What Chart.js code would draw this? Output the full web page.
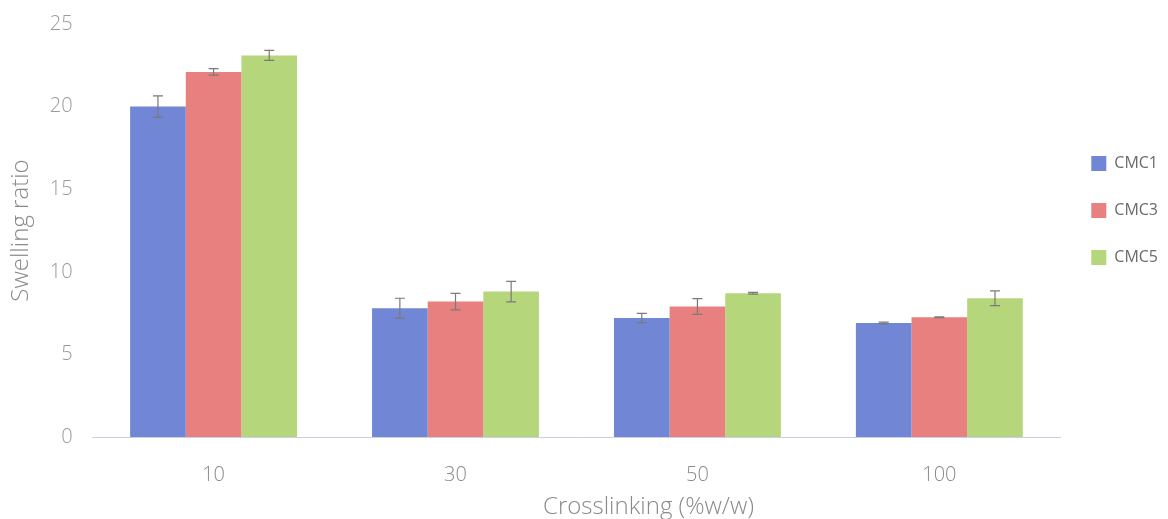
<!DOCTYPE html>
<html>
<head>
<meta charset="utf-8">
<title>Swelling ratio</title>
<script src="https://cdn.jsdelivr.net/npm/chart.js@4.4.0/dist/chart.umd.min.js"></script>
<style>
    html, body { margin: 0; padding: 0; background: #fff; }
    #wrap { width: 1168px; height: 519px; position: relative; }
</style>
</head>
<body>
<div id="wrap"><canvas id="swellChart"></canvas></div>
<script>
const categories = ['10', '30', '50', '100'];
const seriesNames = ['CMC1', 'CMC3', 'CMC5'];
const cmc1 = [20.0, 7.8, 7.2, 6.9];
const cmc3 = [22.1, 8.2, 7.9, 7.25];
const cmc5 = [23.1, 8.8, 8.7, 8.4];
const cmc1Err = [0.65, 0.6, 0.28, 0.05];
const cmc3Err = [0.2, 0.5, 0.48, 0.03];
const cmc5Err = [0.3, 0.62, 0.05, 0.45];
const yTicks = [0, 5, 10, 15, 20, 25];

const colors = ['#7186d4', '#e88080', '#b6d67c'];
const labelFont = { family: 'Open Sans', size: 20, weight: '300' };

// error bars drawn on top of each bar using the y scale
const errorBars = {
    id: 'errorBars',
    afterDatasetsDraw(chart) {
        const ctx = chart.ctx;
        const y = chart.scales.y;
        ctx.save();
        ctx.strokeStyle = '#7a7a7a';
        ctx.lineWidth = 1.2;
        chart.data.datasets.forEach((ds, i) => {
            chart.getDatasetMeta(i).data.forEach((bar, j) => {
                const v = ds.data[j], e = ds.errors[j];
                const top = y.getPixelForValue(v + e);
                const bot = y.getPixelForValue(v - e);
                const x = bar.x;
                ctx.beginPath();
                ctx.moveTo(x, top); ctx.lineTo(x, bot);
                ctx.moveTo(x - 5, top); ctx.lineTo(x + 5, top);
                ctx.moveTo(x - 5, bot); ctx.lineTo(x + 5, bot);
                ctx.stroke();
            });
        });
        ctx.restore();
    }
};

// x axis title sits a little right of the plot centre
const xTitle = {
    id: 'xTitle',
    afterDraw(chart) {
        const ctx = chart.ctx;
        const a = chart.chartArea;
        ctx.save();
        ctx.font = '300 24px "Open Sans"';
        ctx.fillStyle = '#8a8a8a';
        ctx.textAlign = 'center';
        ctx.textBaseline = 'middle';
        ctx.fillText('Crosslinking (%w/w)', (a.left + a.right) / 2 + 72, 507);
        ctx.restore();
    }
};

new Chart(document.getElementById('swellChart'), {
    type: 'bar',
    data: {
        labels: categories,
        datasets: [
            { label: seriesNames[0], data: cmc1, errors: cmc1Err, backgroundColor: colors[0] },
            { label: seriesNames[1], data: cmc3, errors: cmc3Err, backgroundColor: colors[1] },
            { label: seriesNames[2], data: cmc5, errors: cmc5Err, backgroundColor: colors[2] }
        ]
    },
    options: {
        responsive: true,
        maintainAspectRatio: false,
        animation: false,
        layout: { padding: { top: 7, right: 0, bottom: 6, left: 7 } },
        datasets: {
            bar: { categoryPercentage: 0.69, barPercentage: 1.0 }
        },
        scales: {
            y: {
                min: 0,
                max: 25,
                afterBuildTicks: (s) => { s.ticks = yTicks.map(v => ({ value: v })); },
                grid: { display: false },
                border: { display: false },
                ticks: { color: '#9a9a9a', font: labelFont, padding: 12 },
                title: {
                    display: true,
                    text: 'Swelling ratio',
                    color: '#8a8a8a',
                    font: { family: 'Open Sans', size: 24, weight: '300' },
                    padding: { top: 0, bottom: 2 }
                }
            },
            x: {
                grid: { display: false, drawTicks: false },
                border: { display: true, color: '#c8d0e4', dash: [2, 2] },
                ticks: { color: '#8a8a8a', font: labelFont, padding: 26 }
            }
        },
        plugins: {
            tooltip: { enabled: false },
            legend: {
                position: 'right',
                align: 'start',
                title: { display: true, text: ' ', padding: 51.5, font: { size: 12 } },
                labels: {
                    boxWidth: 15,
                    boxHeight: 15,
                    padding: 31,
                    color: '#6a6a6a',
                    font: { family: 'Open Sans', size: 16 }
                }
            }
        }
    },
    plugins: [errorBars, xTitle]
});
</script>
</body>
</html>
